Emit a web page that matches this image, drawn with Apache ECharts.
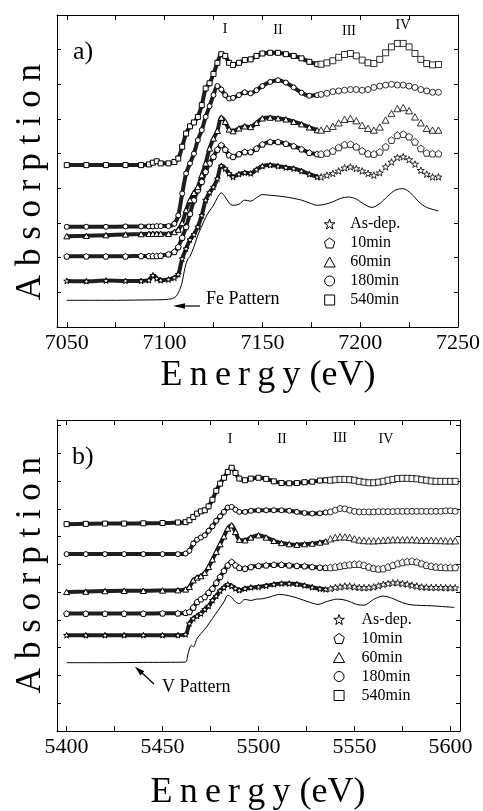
<!DOCTYPE html>
<html>
<head>
<meta charset="utf-8">
<script src="https://cdn.jsdelivr.net/npm/echarts@6/dist/echarts.min.js"></script>
<style>
  html, body { margin: 0; padding: 0; background: #fff; }
  #chart { width: 483px; height: 811px; }
</style>
</head>
<body>
<div id="chart"></div>
<script>
// ---- panel a) Fe K-edge ----
const feEnergy = [7050, 7060, 7070, 7080, 7088, 7092, 7094, 7096, 7098, 7102, 7105, 7107, 7109, 7111, 7113, 7115, 7117, 7119, 7121, 7123,
  7125, 7127, 7129, 7131, 7133, 7135, 7138, 7141, 7144, 7147, 7150, 7154, 7158, 7162, 7166, 7170, 7174, 7178];
const feAsDep = [1.33, 1.32, 1.34, 1.33, 1.33, 1.35, 1.49, 1.40, 1.35, 1.37, 1.42, 1.52, 1.97, 2.26, 2.52, 2.67, 2.89, 3.22, 3.66, 3.88,
  4.04, 4.28, 4.65, 4.57, 4.43, 4.33, 4.41, 4.45, 4.43, 4.54, 4.64, 4.67, 4.64, 4.60, 4.57, 4.50, 4.41, 4.33];
const fe10min = [2.04, 2.04, 2.04, 2.04, 2.05, 2.05, 2.05, 2.05, 2.06, 2.10, 2.17, 2.31, 2.58, 2.89, 3.27, 3.66, 3.95, 4.19, 4.48, 4.72,
  4.91, 5.12, 5.25, 5.12, 4.96, 4.91, 4.99, 5.05, 5.05, 5.15, 5.27, 5.34, 5.34, 5.29, 5.22, 5.13, 5.03, 4.99];
const fe60min = [2.62, 2.63, 2.65, 2.67, 2.68, 2.69, 2.69, 2.69, 2.69, 2.69, 2.74, 2.81, 3.00, 3.37, 3.66, 3.87, 4.04, 4.38, 4.72, 5.15,
  5.44, 5.66, 6.04, 5.92, 5.70, 5.65, 5.73, 5.79, 5.77, 5.89, 6.02, 6.04, 6.02, 5.99, 5.92, 5.85, 5.76, 5.68];
const fe180min = [2.89, 2.89, 2.89, 2.90, 2.90, 2.90, 2.90, 2.91, 2.91, 2.91, 2.98, 3.22, 3.85, 4.43, 4.72, 5.00, 5.39, 5.68, 6.06, 6.37,
  6.69, 6.95, 6.85, 6.69, 6.59, 6.61, 6.69, 6.77, 6.74, 6.83, 6.95, 7.07, 7.12, 7.05, 6.91, 6.76, 6.67, 6.69];
const fe540min = [4.67, 4.67, 4.67, 4.67, 4.67, 4.69, 4.74, 4.78, 4.72, 4.72, 4.76, 4.86, 5.20, 5.58, 5.79, 5.90, 6.06, 6.40, 6.88, 7.03,
  7.30, 7.62, 7.87, 7.82, 7.62, 7.56, 7.62, 7.70, 7.72, 7.82, 7.89, 7.91, 7.91, 7.87, 7.82, 7.75, 7.65, 7.58];

// coarser points after 7180 eV
const feTailEnergy = [7180, 7183, 7186, 7189, 7192, 7195, 7198, 7201, 7204, 7207, 7210, 7213, 7216, 7219, 7222, 7225, 7228, 7231, 7234, 7237, 7240];
const feAsDepTail = [4.33, 4.38, 4.43, 4.50, 4.59, 4.62, 4.57, 4.50, 4.43, 4.38, 4.45, 4.62, 4.76, 4.89, 4.91, 4.83, 4.70, 4.52, 4.41, 4.33, 4.33];
const fe10minTail = [4.99, 5.02, 5.08, 5.18, 5.26, 5.27, 5.20, 5.08, 5.00, 4.99, 5.05, 5.20, 5.39, 5.53, 5.56, 5.49, 5.34, 5.15, 5.02, 5.00, 5.00];
const fe60minTail = [5.68, 5.73, 5.79, 5.89, 5.99, 6.02, 5.95, 5.82, 5.73, 5.68, 5.77, 5.97, 6.16, 6.30, 6.33, 6.24, 6.06, 5.89, 5.73, 5.68, 5.68];
const fe180minTail = [6.71, 6.74, 6.79, 6.81, 6.83, 6.85, 6.85, 6.83, 6.85, 6.91, 6.95, 6.98, 7.00, 6.98, 6.98, 6.95, 6.91, 6.85, 6.81, 6.77, 6.77];
const fe540minTail = [7.58, 7.62, 7.68, 7.78, 7.86, 7.89, 7.82, 7.70, 7.62, 7.60, 7.72, 7.91, 8.08, 8.18, 8.18, 8.08, 7.89, 7.72, 7.60, 7.56, 7.57];

const fePatternEnergy = [7050, 7070, 7090, 7100, 7104, 7106, 7108, 7109, 7110, 7111, 7112, 7113, 7115, 7117, 7119, 7121, 7123, 7125, 7127, 7129,
  7131, 7133, 7135, 7138, 7141, 7144, 7147, 7150, 7154, 7158, 7162, 7166, 7170, 7174, 7178, 7182, 7186, 7190, 7194, 7198,
  7202, 7206, 7210, 7214, 7218, 7222, 7226, 7230, 7234, 7240];
const fePattern = [0.77, 0.77, 0.78, 0.79, 0.82, 0.89, 1.11, 1.30, 1.59, 1.83, 1.97, 2.04, 2.31, 2.65, 2.91, 3.16, 3.35, 3.51, 3.73, 3.87,
  3.75, 3.58, 3.51, 3.54, 3.66, 3.63, 3.73, 3.82, 3.80, 3.78, 3.75, 3.71, 3.66, 3.58, 3.51, 3.54, 3.61, 3.71, 3.75, 3.69,
  3.54, 3.45, 3.56, 3.77, 3.95, 3.99, 3.85, 3.61, 3.45, 3.35];

// ---- panel b) V K-edge ----
const vEnergy = [5400, 5410, 5420, 5430, 5440, 5450, 5458, 5462, 5464, 5466, 5468, 5470, 5472, 5474, 5476, 5478, 5480, 5482, 5484, 5486,
  5488, 5490, 5493, 5496, 5500, 5504, 5508, 5512, 5516, 5520, 5524, 5528, 5532, 5535];
const vAsDep = [3.45, 3.45, 3.45, 3.45, 3.45, 3.45, 3.45, 3.48, 3.87, 4.05, 4.14, 4.23, 4.38, 4.50, 4.71, 4.86, 5.05, 5.17, 5.28, 5.22,
  5.13, 5.07, 5.13, 5.17, 5.19, 5.23, 5.28, 5.31, 5.31, 5.29, 5.24, 5.18, 5.12, 5.10];
const v10min = [4.23, 4.23, 4.23, 4.23, 4.23, 4.24, 4.24, 4.26, 4.29, 4.45, 4.65, 4.75, 4.83, 4.98, 5.13, 5.34, 5.55, 5.77, 5.97, 6.09,
  5.97, 5.88, 5.85, 5.91, 5.95, 5.97, 5.99, 5.99, 5.97, 5.95, 5.94, 5.91, 5.89, 5.88];
const v60min = [5.01, 5.02, 5.04, 5.05, 5.05, 5.06, 5.07, 5.10, 5.19, 5.43, 5.53, 5.58, 5.70, 5.91, 6.18, 6.45, 6.73, 7.01, 7.29, 7.41,
  7.17, 6.89, 6.87, 6.97, 7.05, 6.97, 6.85, 6.77, 6.73, 6.71, 6.73, 6.75, 6.79, 6.83];
const v180min = [6.37, 6.37, 6.37, 6.37, 6.37, 6.37, 6.37, 6.39, 6.49, 6.75, 6.89, 6.97, 7.05, 7.21, 7.37, 7.57, 7.73, 7.89, 8.05, 8.07,
  7.97, 7.89, 7.89, 7.93, 7.95, 7.95, 7.95, 7.95, 7.93, 7.89, 7.85, 7.83, 7.84, 7.87];
const v540min = [7.45, 7.46, 7.47, 7.47, 7.48, 7.49, 7.51, 7.52, 7.59, 7.71, 7.83, 7.91, 7.95, 8.09, 8.33, 8.65, 8.91, 9.12, 9.33, 9.48,
  9.29, 9.09, 9.03, 9.09, 9.12, 9.08, 8.99, 8.93, 8.92, 8.93, 8.96, 8.98, 9.02, 9.03];

const vTailEnergy = [5537.5, 5540, 5542.5, 5545, 5547.5, 5550, 5552.5, 5555, 5557.5, 5560, 5562.5, 5565, 5567.5, 5570, 5572.5,
  5575, 5577.5, 5580, 5582.5, 5585, 5587.5, 5590, 5592.5, 5595, 5597.5, 5600, 5602.5];
const vAsDepTail = [5.13, 5.17, 5.19, 5.22, 5.22, 5.19, 5.17, 5.16, 5.17, 5.19, 5.23, 5.28, 5.31, 5.34, 5.34, 5.31, 5.29, 5.25, 5.22, 5.19,
  5.18, 5.17, 5.17, 5.17, 5.16, 5.16, 5.16];
const v10minTail = [5.89, 5.91, 5.94, 5.97, 5.99, 6.01, 6.01, 5.97, 5.91, 5.86, 5.84, 5.85, 5.91, 5.97, 6.03, 6.07, 6.10, 6.12, 6.09, 6.03,
  5.97, 5.94, 5.91, 5.90, 5.89, 5.89, 5.89];
const v60minTail = [6.92, 6.97, 6.99, 6.99, 6.97, 6.92, 6.88, 6.86, 6.85, 6.85, 6.86, 6.87, 6.88, 6.89, 6.89, 6.89, 6.89, 6.89, 6.88, 6.87,
  6.87, 6.87, 6.86, 6.86, 6.85, 6.85, 6.85];
const v180minTail = [7.89, 7.95, 8.01, 8.00, 7.95, 7.91, 7.89, 7.89, 7.89, 7.89, 7.90, 7.90, 7.90, 7.90, 7.91, 7.91, 7.91, 7.91, 7.91, 7.91,
  7.91, 7.91, 7.91, 7.91, 7.93, 7.93, 7.91];
const v540minTail = [9.03, 9.05, 9.06, 9.06, 9.05, 9.03, 8.99, 8.96, 8.94, 8.94, 8.96, 8.99, 9.03, 9.06, 9.09, 9.10, 9.10, 9.09, 9.08, 9.05,
  9.03, 9.00, 8.99, 8.99, 8.99, 8.99, 8.99];

const vPatternEnergy = [5400, 5420, 5440, 5462, 5463, 5464, 5465, 5466, 5468, 5470, 5473, 5476, 5479, 5482, 5484, 5486, 5488, 5490, 5493, 5496,
  5499, 5502, 5506, 5511, 5516, 5521, 5526, 5531, 5536, 5541, 5546, 5551, 5555, 5560, 5565, 5570, 5575, 5580, 5590, 5602];
const vPattern = [2.46, 2.46, 2.47, 2.48, 2.70, 2.95, 3.09, 3.03, 3.33, 3.51, 3.75, 4.05, 4.35, 4.65, 4.89, 4.81, 4.65, 4.59, 4.74, 4.70,
  4.75, 4.76, 4.83, 4.92, 4.87, 4.77, 4.65, 4.56, 4.67, 4.75, 4.70, 4.56, 4.53, 4.74, 4.86, 4.77, 4.62, 4.54, 4.51, 4.45];

// axes
const feTicks = [7050, 7075, 7100, 7125, 7150, 7175, 7200, 7225, 7250];
const feLabels = [7050, 7100, 7150, 7200, 7250];
const vTicks = [5400, 5425, 5450, 5475, 5500, 5525, 5550, 5575, 5600];
const vLabels = [5400, 5450, 5500, 5550, 5600];
const legendNames = ['As-dep.', '10min', '60min', '180min', '540min'];
const peakLabels = ['I', 'II', 'III', 'IV'];

const FONT = '"Liberation Serif", "Times New Roman", serif';
const STAR = 'path://M0,-10L2.35,-3.24L9.51,-3.09L3.8,1.24L5.88,8.09L0,4L-5.88,8.09L-3.8,1.24L-9.51,-3.09L-2.35,-3.24Z';
const PENTAGON = 'path://M0,-10L9.51,-3.09L5.88,8.09L-5.88,8.09L-9.51,-3.09Z';
const TRIANGLE = 'path://M0,-10L10,8L-10,8Z';
const SQUARE = 'path://M-10,-10L10,-10L10,10L-10,10Z';
const symbols = [STAR, PENTAGON, TRIANGLE, 'circle', SQUARE];
const symbolSizes = [7, 7, 7, 6, 6];
const legendSizes = [10, 10, 10, 9, 8];

const zip = (xs, ys) => xs.map((x, i) => [x, ys[i]]);

function xAxisPair(grid, min, max, ticks, labels) {
  const line = { show: true, onZero: false, lineStyle: { color: '#000', width: 1 } };
  const tick = { show: true, inside: true, length: 5, customValues: ticks, lineStyle: { color: '#000' } };
  return [
    {
      type: 'value', gridIndex: grid, min, max, position: 'bottom',
      axisLine: line, axisTick: tick, splitLine: { show: false },
      axisLabel: {
        customValues: labels, margin: 5, showMinLabel: true, showMaxLabel: true,
        formatter: (v) => String(v),
        fontFamily: FONT, fontSize: 22, color: '#000',
      },
    },
    {
      type: 'value', gridIndex: grid, min, max, position: 'top',
      axisLine: line, axisTick: tick, axisLabel: { show: false }, splitLine: { show: false },
    },
  ];
}

function yAxisPair(grid, max) {
  const base = {
    type: 'value', gridIndex: grid, min: 0, max, interval: 1,
    axisLine: { show: true, onZero: false, lineStyle: { color: '#000', width: 1 } },
    axisTick: { show: true, inside: true, length: 4, lineStyle: { color: '#000' } },
    axisLabel: { show: false },
    splitLine: { show: false },
  };
  return [{ ...base, position: 'left' }, { ...base, position: 'right' }];
}

function panelSeries(axisIdx, energy, dense, tailEnergy, tails, patternEnergy, pattern) {
  const out = [{
    type: 'line', xAxisIndex: axisIdx, yAxisIndex: axisIdx,
    data: zip(patternEnergy, pattern), symbol: 'none', smooth: 0.3,
    lineStyle: { color: '#000', width: 1 }, silent: true, z: 1,
  }];
  legendNames.forEach((name, i) => {
    const item = { color: '#fff', borderColor: '#000', borderWidth: 1 };
    // dense scan: overlapping markers read as a dark band
    out.push({
      name, type: 'line', xAxisIndex: axisIdx, yAxisIndex: axisIdx,
      data: zip(energy, dense[i]), smooth: 0.3,
      symbol: symbols[i], symbolSize: symbolSizes[i] - 1, showAllSymbol: true, symbolKeepAspect: true,
      lineStyle: { color: '#1e1e1e', width: 4 }, itemStyle: item, z: 2,
    });
    out.push({
      name, type: 'scatter', xAxisIndex: axisIdx, yAxisIndex: axisIdx,
      data: zip(tailEnergy, tails[i]),
      symbol: symbols[i], symbolSize: symbolSizes[i], symbolKeepAspect: true,
      itemStyle: item, z: 2,
    });
  });
  return out;
}

function legendAt(left, top, itemWidth) {
  return {
    orient: 'vertical', left, top, itemWidth, itemHeight: 10, itemGap: 3,
    selectedMode: false,
    data: legendNames.map((name, i) => ({ name, icon: symbols[i] })),
    itemStyle: { color: '#fff', borderColor: '#000', borderWidth: 1 },
    textStyle: { fontFamily: FONT, fontSize: 16, color: '#000', lineHeight: 16 },
  };
}

function text(str, x, y, size, opts = {}) {
  const align = opts.align || 'center';
  return {
    type: 'text', x, y, rotation: opts.rotation || 0, z: 10,
    style: {
      text: str, fill: '#000', font: size + 'px ' + FONT,
      align, verticalAlign: 'middle', textAlign: align, textVerticalAlign: 'middle',
    },
  };
}

const [xa0, xa1] = xAxisPair(0, 7045, 7250, feTicks, feLabels);
const [xb0, xb1] = xAxisPair(1, 5395, 5605, vTicks, vLabels);
const [ya0, ya1] = yAxisPair(0, 9);
const [yb0, yb1] = yAxisPair(1, 11.2);

const thin = '\u2009';
const energyTitle = ['E', 'n', 'e', 'r', 'g', 'y'].join(thin) + ' (eV)';
const absTitle = 'A b s o r p t i o n';

const feNumeralPos = [[225, 29], [278, 30], [349, 31], [403, 25]];
const vNumeralPos = [[230, 439], [282, 439], [340, 438], [386, 439]];

const option = {
  animation: false,
  backgroundColor: '#fff',
  grid: [
    { left: 57, top: 15, width: 403, height: 312 },
    { left: 57, top: 420, width: 403, height: 311 },
  ],
  // order: 0 = a bottom, 1 = b bottom, 2 = a top, 3 = b top
  xAxis: [xa0, xb0, xa1, xb1],
  yAxis: [ya0, yb0, ya1, yb1],
  legend: [legendAt(318.6, 211, 31), legendAt(328, 606.5, 35)],
  series: [
    ...panelSeries(0, feEnergy, [feAsDep, fe10min, fe60min, fe180min, fe540min],
      feTailEnergy, [feAsDepTail, fe10minTail, fe60minTail, fe180minTail, fe540minTail], fePatternEnergy, fePattern),
    ...panelSeries(1, vEnergy, [vAsDep, v10min, v60min, v180min, v540min],
      vTailEnergy, [vAsDepTail, v10minTail, v60minTail, v180minTail, v540minTail], vPatternEnergy, vPattern),
  ],
  graphic: [
    text('a)', 73, 52, 26, { align: 'left' }),
    text('b)', 72, 457, 26, { align: 'left' }),
    ...peakLabels.map((t, i) => text(t, feNumeralPos[i][0], feNumeralPos[i][1], 14)),
    ...peakLabels.map((t, i) => text(t, vNumeralPos[i][0], vNumeralPos[i][1], 14)),
    text('Fe Pattern', 206, 299, 18, { align: 'left' }),
    { type: 'line', shape: { x1: 200, y1: 306, x2: 183, y2: 306 }, style: { stroke: '#000', lineWidth: 1.2 } },
    { type: 'polygon', shape: { points: [[173, 306], [185, 303.2], [185, 308.8]] }, style: { fill: '#000' } },
    text('V Pattern', 162, 687, 18, { align: 'left' }),
    { type: 'line', shape: { x1: 154, y1: 684, x2: 142, y2: 673 }, style: { stroke: '#000', lineWidth: 1.2 } },
    { type: 'polygon', shape: { points: [[135, 666.7], [144.4, 671.2], [140.4, 675.6]] }, style: { fill: '#000' } },
    text(energyTitle, 268, 376, 36),
    text(energyTitle, 258, 793, 36),
    text(absTitle, 31, 182, 35, { rotation: Math.PI / 2 }),
    text(absTitle, 31, 575, 35, { rotation: Math.PI / 2 }),
  ],
};

const chart = echarts.init(document.getElementById('chart'), null, { renderer: 'canvas' });
chart.setOption(option);
window.addEventListener('resize', () => chart.resize());
</script>
</body>
</html>
